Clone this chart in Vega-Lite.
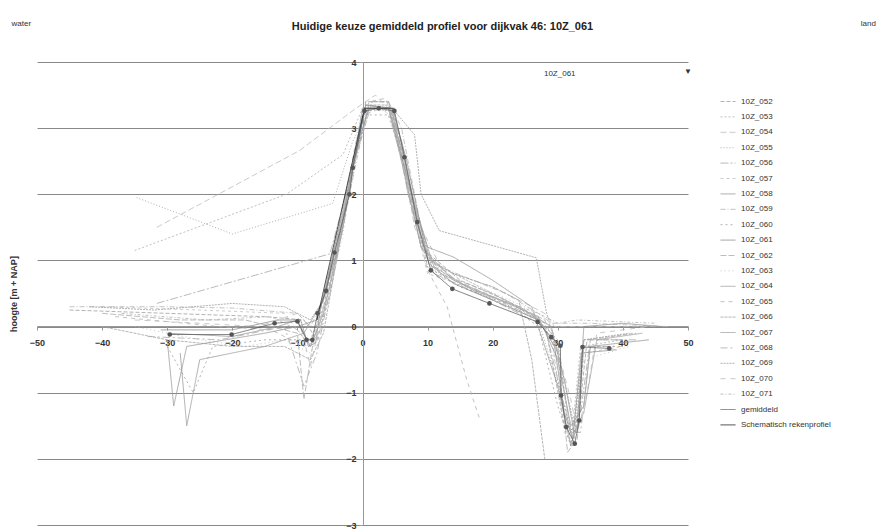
{
  "$schema": "https://vega.github.io/schema/vega-lite/v6.json",
  "autosize": {"type": "none"},
  "width": 651,
  "height": 463,
  "padding": {"left": 37, "top": 62, "right": 200, "bottom": 4},
  "background": "white",
  "config": {
    "font": "Liberation Sans",
    "view": {"stroke": null},
    "title": {"fontSize": 11, "fontWeight": "bold", "color": "#222", "anchor": "middle", "offset": -12, "frame": "group", "dx": 80}
  },
  "title": "Huidige keuze gemiddeld profiel voor dijkvak 46: 10Z_061",
  "datasets": {
    "prof": [
      {"s":"10Z_052","x":-45,"y":0.25},{"s":"10Z_052","x":-30,"y":0.2},{"s":"10Z_052","x":-15,"y":0.15},{"s":"10Z_052","x":-9,"y":0.1},{"s":"10Z_052","x":-7,"y":-0.2},{"s":"10Z_052","x":-5,"y":0.5},{"s":"10Z_052","x":-2,"y":2.0},{"s":"10Z_052","x":0.5,"y":3.4},{"s":"10Z_052","x":4,"y":3.4},{"s":"10Z_052","x":6,"y":2.6},{"s":"10Z_052","x":9,"y":1.2},{"s":"10Z_052","x":15,"y":0.7},{"s":"10Z_052","x":22,"y":0.4},{"s":"10Z_052","x":28,"y":0.05},{"s":"10Z_052","x":31,"y":-1.5},{"s":"10Z_052","x":33,"y":-1.6},{"s":"10Z_052","x":34.5,"y":-0.2},{"s":"10Z_052","x":42,"y":-0.1},
      {"s":"10Z_053","x":-35,"y":1.15},{"s":"10Z_053","x":-11.7,"y":2.0},{"s":"10Z_053","x":-3,"y":2.6},{"s":"10Z_053","x":0,"y":3.3},{"s":"10Z_053","x":4,"y":3.3},{"s":"10Z_053","x":7,"y":2.2},{"s":"10Z_053","x":10,"y":1.0},{"s":"10Z_053","x":20,"y":0.5},{"s":"10Z_053","x":27,"y":0.1},{"s":"10Z_053","x":30,"y":-0.2},{"s":"10Z_053","x":32,"y":-1.8},{"s":"10Z_053","x":33.5,"y":-0.3},{"s":"10Z_053","x":40,"y":-0.2},
      {"s":"10Z_054","x":-31.6,"y":1.5},{"s":"10Z_054","x":-9.7,"y":2.66},{"s":"10Z_054","x":-1,"y":3.3},{"s":"10Z_054","x":2,"y":3.5},{"s":"10Z_054","x":5,"y":3.2},{"s":"10Z_054","x":8,"y":1.5},{"s":"10Z_054","x":11,"y":0.9},{"s":"10Z_054","x":20,"y":0.6},{"s":"10Z_054","x":28,"y":0.2},{"s":"10Z_054","x":29.5,"y":0.0},{"s":"10Z_054","x":45,"y":0.0},
      {"s":"10Z_055","x":-34.7,"y":1.95},{"s":"10Z_055","x":-20,"y":1.4},{"s":"10Z_055","x":-4.6,"y":1.86},{"s":"10Z_055","x":-1.5,"y":2.8},{"s":"10Z_055","x":1,"y":3.3},{"s":"10Z_055","x":4,"y":3.3},{"s":"10Z_055","x":6.5,"y":2.5},{"s":"10Z_055","x":10,"y":0.9},{"s":"10Z_055","x":18,"y":0.5},{"s":"10Z_055","x":27,"y":0.1},{"s":"10Z_055","x":31,"y":-1.2},{"s":"10Z_055","x":32.5,"y":-1.7},{"s":"10Z_055","x":34,"y":-0.3},{"s":"10Z_055","x":38,"y":-0.3},
      {"s":"10Z_056","x":-31.6,"y":0.35},{"s":"10Z_056","x":-5,"y":1.1},{"s":"10Z_056","x":-2,"y":2.2},{"s":"10Z_056","x":0.5,"y":3.35},{"s":"10Z_056","x":4.5,"y":3.3},{"s":"10Z_056","x":7,"y":2.0},{"s":"10Z_056","x":11,"y":0.8},{"s":"10Z_056","x":20,"y":0.4},{"s":"10Z_056","x":28,"y":0.0},{"s":"10Z_056","x":30.5,"y":-1.0},{"s":"10Z_056","x":32,"y":-1.6},{"s":"10Z_056","x":33.5,"y":-1.3},{"s":"10Z_056","x":35,"y":-0.2},{"s":"10Z_056","x":42,"y":-0.2},
      {"s":"10Z_057","x":-40,"y":0.3},{"s":"10Z_057","x":-25,"y":0.25},{"s":"10Z_057","x":-12,"y":0.2},{"s":"10Z_057","x":-8,"y":-0.3},{"s":"10Z_057","x":-6.5,"y":0.2},{"s":"10Z_057","x":-3,"y":1.6},{"s":"10Z_057","x":0,"y":3.2},{"s":"10Z_057","x":3,"y":3.3},{"s":"10Z_057","x":5,"y":3.1},{"s":"10Z_057","x":7,"y":2.0},{"s":"10Z_057","x":10,"y":0.8},{"s":"10Z_057","x":16,"y":0.6},{"s":"10Z_057","x":25,"y":0.2},{"s":"10Z_057","x":29,"y":-0.1},{"s":"10Z_057","x":31,"y":-1.6},{"s":"10Z_057","x":32.5,"y":-1.8},{"s":"10Z_057","x":34,"y":-0.4},{"s":"10Z_057","x":40,"y":-0.3},
      {"s":"10Z_058","x":-30,"y":-0.1},{"s":"10Z_058","x":-20,"y":-0.15},{"s":"10Z_058","x":-13,"y":0.0},{"s":"10Z_058","x":-10,"y":0.1},{"s":"10Z_058","x":-8,"y":-0.3},{"s":"10Z_058","x":-6,"y":0.2},{"s":"10Z_058","x":-3,"y":1.5},{"s":"10Z_058","x":0,"y":3.3},{"s":"10Z_058","x":4,"y":3.3},{"s":"10Z_058","x":6,"y":2.5},{"s":"10Z_058","x":9,"y":1.2},{"s":"10Z_058","x":14,"y":0.7},{"s":"10Z_058","x":20,"y":0.45},{"s":"10Z_058","x":27,"y":0.15},{"s":"10Z_058","x":30,"y":-0.5},{"s":"10Z_058","x":32,"y":-1.5},{"s":"10Z_058","x":34,"y":-1.2},{"s":"10Z_058","x":35,"y":-0.3},{"s":"10Z_058","x":44,"y":-0.2},
      {"s":"10Z_059","x":-45,"y":0.3},{"s":"10Z_059","x":-30,"y":0.3},{"s":"10Z_059","x":-20,"y":0.28},{"s":"10Z_059","x":-10,"y":0.2},{"s":"10Z_059","x":-8,"y":0.0},{"s":"10Z_059","x":-6,"y":0.4},{"s":"10Z_059","x":-2,"y":2.0},{"s":"10Z_059","x":1,"y":3.4},{"s":"10Z_059","x":4,"y":3.4},{"s":"10Z_059","x":6,"y":3.0},{"s":"10Z_059","x":9,"y":1.5},{"s":"10Z_059","x":12,"y":0.9},{"s":"10Z_059","x":22,"y":0.5},{"s":"10Z_059","x":27,"y":0.2},{"s":"10Z_059","x":29,"y":0.05},{"s":"10Z_059","x":35,"y":0.05},{"s":"10Z_059","x":47,"y":0.0},
      {"s":"10Z_060","x":-30,"y":-0.3},{"s":"10Z_060","x":-26,"y":-1.0},{"s":"10Z_060","x":-23,"y":-0.3},{"s":"10Z_060","x":-15,"y":-0.2},{"s":"10Z_060","x":-8,"y":-0.2},{"s":"10Z_060","x":-6,"y":0.3},{"s":"10Z_060","x":-3,"y":1.6},{"s":"10Z_060","x":0,"y":3.2},{"s":"10Z_060","x":4,"y":3.2},{"s":"10Z_060","x":6.5,"y":2.4},{"s":"10Z_060","x":10,"y":0.9},{"s":"10Z_060","x":15,"y":0.6},{"s":"10Z_060","x":22,"y":0.35},{"s":"10Z_060","x":27,"y":0.0},{"s":"10Z_060","x":30,"y":-1.2},{"s":"10Z_060","x":32,"y":-1.8},{"s":"10Z_060","x":33,"y":-1.4},{"s":"10Z_060","x":34,"y":-0.3},{"s":"10Z_060","x":39,"y":-0.3},
      {"s":"10Z_061","x":-31,"y":-0.05},{"s":"10Z_061","x":-20,"y":-0.05},{"s":"10Z_061","x":-13,"y":0.1},{"s":"10Z_061","x":-9.5,"y":0.1},{"s":"10Z_061","x":-8.3,"y":-0.3},{"s":"10Z_061","x":-7.2,"y":-0.25},{"s":"10Z_061","x":-6.5,"y":0.25},{"s":"10Z_061","x":-2.2,"y":2.1},{"s":"10Z_061","x":0.5,"y":3.35},{"s":"10Z_061","x":4.6,"y":3.3},{"s":"10Z_061","x":6.8,"y":2.5},{"s":"10Z_061","x":10.2,"y":0.95},{"s":"10Z_061","x":14,"y":0.65},{"s":"10Z_061","x":20,"y":0.4},{"s":"10Z_061","x":27,"y":0.1},{"s":"10Z_061","x":29.5,"y":-0.3},{"s":"10Z_061","x":31,"y":-1.3},{"s":"10Z_061","x":32.3,"y":-1.7},{"s":"10Z_061","x":33.6,"y":-0.4},{"s":"10Z_061","x":39,"y":-0.35},
      {"s":"10Z_062","x":-40,"y":0.2},{"s":"10Z_062","x":-28,"y":0.1},{"s":"10Z_062","x":-18,"y":0.1},{"s":"10Z_062","x":-10,"y":-0.1},{"s":"10Z_062","x":-9,"y":-1.1},{"s":"10Z_062","x":-7.5,"y":-0.2},{"s":"10Z_062","x":-5,"y":0.6},{"s":"10Z_062","x":-1.5,"y":2.4},{"s":"10Z_062","x":1.5,"y":3.4},{"s":"10Z_062","x":4,"y":3.4},{"s":"10Z_062","x":6,"y":2.8},{"s":"10Z_062","x":9,"y":1.3},{"s":"10Z_062","x":12,"y":0.8},{"s":"10Z_062","x":20,"y":0.5},{"s":"10Z_062","x":28,"y":0.1},{"s":"10Z_062","x":30,"y":-0.4},{"s":"10Z_062","x":31.5,"y":-1.9},{"s":"10Z_062","x":33,"y":-1.7},{"s":"10Z_062","x":34,"y":-0.2},{"s":"10Z_062","x":40,"y":-0.2},
      {"s":"10Z_063","x":-35,"y":0.0},{"s":"10Z_063","x":-25,"y":-0.2},{"s":"10Z_063","x":-18,"y":-0.3},{"s":"10Z_063","x":-12,"y":-0.2},{"s":"10Z_063","x":-8,"y":-0.4},{"s":"10Z_063","x":-6,"y":0.1},{"s":"10Z_063","x":-3,"y":1.4},{"s":"10Z_063","x":0,"y":3.3},{"s":"10Z_063","x":3.5,"y":3.3},{"s":"10Z_063","x":5.5,"y":2.8},{"s":"10Z_063","x":8,"y":1.7},{"s":"10Z_063","x":10,"y":1.0},{"s":"10Z_063","x":18,"y":0.6},{"s":"10Z_063","x":26,"y":0.25},{"s":"10Z_063","x":29,"y":-0.2},{"s":"10Z_063","x":31,"y":-1.4},{"s":"10Z_063","x":32.5,"y":-1.7},{"s":"10Z_063","x":34,"y":-0.5},{"s":"10Z_063","x":41,"y":-0.3},
      {"s":"10Z_064","x":-28,"y":-0.4},{"s":"10Z_064","x":-27,"y":-1.5},{"s":"10Z_064","x":-25,"y":-0.5},{"s":"10Z_064","x":-15,"y":-0.3},{"s":"10Z_064","x":-9,"y":-0.1},{"s":"10Z_064","x":-6,"y":0.4},{"s":"10Z_064","x":-2.5,"y":1.9},{"s":"10Z_064","x":0.5,"y":3.35},{"s":"10Z_064","x":4,"y":3.3},{"s":"10Z_064","x":6,"y":2.7},{"s":"10Z_064","x":8,"y":1.8},{"s":"10Z_064","x":11,"y":0.9},{"s":"10Z_064","x":17,"y":0.55},{"s":"10Z_064","x":24,"y":0.3},{"s":"10Z_064","x":29,"y":0.0},{"s":"10Z_064","x":31,"y":-0.8},{"s":"10Z_064","x":32.5,"y":-1.6},{"s":"10Z_064","x":34,"y":-1.3},{"s":"10Z_064","x":36,"y":-0.2},{"s":"10Z_064","x":43,"y":-0.1},
      {"s":"10Z_065","x":-38,"y":0.15},{"s":"10Z_065","x":-22,"y":0.0},{"s":"10Z_065","x":-14,"y":-0.05},{"s":"10Z_065","x":-9,"y":-0.3},{"s":"10Z_065","x":-6.8,"y":-0.2},{"s":"10Z_065","x":-5,"y":0.7},{"s":"10Z_065","x":-1,"y":2.8},{"s":"10Z_065","x":1,"y":3.4},{"s":"10Z_065","x":3.5,"y":3.45},{"s":"10Z_065","x":5.5,"y":3.0},{"s":"10Z_065","x":7,"y":2.0},{"s":"10Z_065","x":10,"y":0.85},{"s":"10Z_065","x":13,"y":0.3},{"s":"10Z_065","x":16,"y":-0.8},{"s":"10Z_065","x":18,"y":-1.4},
      {"s":"10Z_066","x":-40,"y":0.0},{"s":"10Z_066","x":-30,"y":-0.2},{"s":"10Z_066","x":-20,"y":-0.3},{"s":"10Z_066","x":-12,"y":-0.3},{"s":"10Z_066","x":-8,"y":-0.5},{"s":"10Z_066","x":-6,"y":-0.1},{"s":"10Z_066","x":-4,"y":1.0},{"s":"10Z_066","x":-1,"y":2.6},{"s":"10Z_066","x":1,"y":3.35},{"s":"10Z_066","x":4,"y":3.35},{"s":"10Z_066","x":6,"y":2.8},{"s":"10Z_066","x":8.5,"y":1.6},{"s":"10Z_066","x":10.5,"y":1.0},{"s":"10Z_066","x":14,"y":0.8},{"s":"10Z_066","x":20,"y":0.6},{"s":"10Z_066","x":24,"y":0.4},{"s":"10Z_066","x":26,"y":-0.5},{"s":"10Z_066","x":28,"y":-2.0},
      {"s":"10Z_067","x":-30,"y":-0.2},{"s":"10Z_067","x":-29,"y":-1.2},{"s":"10Z_067","x":-27,"y":-0.3},{"s":"10Z_067","x":-15,"y":-0.1},{"s":"10Z_067","x":-10,"y":0.0},{"s":"10Z_067","x":-7,"y":0.1},{"s":"10Z_067","x":-4,"y":1.1},{"s":"10Z_067","x":-1,"y":2.7},{"s":"10Z_067","x":1,"y":3.3},{"s":"10Z_067","x":4,"y":3.3},{"s":"10Z_067","x":7,"y":2.2},{"s":"10Z_067","x":10,"y":1.2},{"s":"10Z_067","x":14,"y":1.05},{"s":"10Z_067","x":20,"y":0.7},{"s":"10Z_067","x":26,"y":0.3},{"s":"10Z_067","x":30,"y":-0.9},{"s":"10Z_067","x":32,"y":-1.8},{"s":"10Z_067","x":33,"y":-1.5},{"s":"10Z_067","x":34,"y":0.0},{"s":"10Z_067","x":40,"y":0.05},{"s":"10Z_067","x":46,"y":0.0},
      {"s":"10Z_068","x":-33,"y":-0.15},{"s":"10Z_068","x":-22,"y":-0.2},{"s":"10Z_068","x":-12,"y":0.0},{"s":"10Z_068","x":-9,"y":-0.9},{"s":"10Z_068","x":-7,"y":-0.4},{"s":"10Z_068","x":-4.5,"y":0.8},{"s":"10Z_068","x":-1.5,"y":2.4},{"s":"10Z_068","x":1,"y":3.3},{"s":"10Z_068","x":4.5,"y":3.3},{"s":"10Z_068","x":6.5,"y":2.4},{"s":"10Z_068","x":9.5,"y":1.1},{"s":"10Z_068","x":15,"y":0.65},{"s":"10Z_068","x":21,"y":0.4},{"s":"10Z_068","x":27,"y":0.1},{"s":"10Z_068","x":30,"y":-0.3},{"s":"10Z_068","x":32,"y":-1.6},{"s":"10Z_068","x":33.5,"y":-1.6},{"s":"10Z_068","x":35,"y":-0.3},{"s":"10Z_068","x":40,"y":-0.3},
      {"s":"10Z_069","x":-42,"y":0.3},{"s":"10Z_069","x":-32,"y":0.25},{"s":"10Z_069","x":-20,"y":0.35},{"s":"10Z_069","x":-12,"y":0.3},{"s":"10Z_069","x":-8,"y":0.1},{"s":"10Z_069","x":-6,"y":0.4},{"s":"10Z_069","x":-2,"y":2.3},{"s":"10Z_069","x":1,"y":3.3},{"s":"10Z_069","x":5,"y":3.25},{"s":"10Z_069","x":8,"y":2.9},{"s":"10Z_069","x":9,"y":2.0},{"s":"10Z_069","x":11.8,"y":1.45},{"s":"10Z_069","x":26.7,"y":1.04},{"s":"10Z_069","x":28.2,"y":0.24},{"s":"10Z_069","x":31,"y":-0.8},{"s":"10Z_069","x":32.5,"y":-1.5},{"s":"10Z_069","x":34,"y":-0.2},{"s":"10Z_069","x":41,"y":-0.1},
      {"s":"10Z_070","x":-35,"y":0.1},{"s":"10Z_070","x":-25,"y":0.05},{"s":"10Z_070","x":-16,"y":0.0},{"s":"10Z_070","x":-10,"y":0.2},{"s":"10Z_070","x":-8,"y":-0.6},{"s":"10Z_070","x":-6,"y":0.3},{"s":"10Z_070","x":-3,"y":1.7},{"s":"10Z_070","x":0,"y":3.3},{"s":"10Z_070","x":4,"y":3.3},{"s":"10Z_070","x":6,"y":2.5},{"s":"10Z_070","x":9,"y":1.3},{"s":"10Z_070","x":12,"y":0.8},{"s":"10Z_070","x":19,"y":0.5},{"s":"10Z_070","x":25,"y":0.25},{"s":"10Z_070","x":29,"y":0.0},{"s":"10Z_070","x":32,"y":-1.1},{"s":"10Z_070","x":33,"y":-1.6},{"s":"10Z_070","x":34.5,"y":-1.0},{"s":"10Z_070","x":36,"y":-0.1},{"s":"10Z_070","x":44,"y":0.0},
      {"s":"10Z_071","x":-37,"y":0.2},{"s":"10Z_071","x":-24,"y":0.1},{"s":"10Z_071","x":-14,"y":0.15},{"s":"10Z_071","x":-10,"y":-0.05},{"s":"10Z_071","x":-8,"y":-0.3},{"s":"10Z_071","x":-6,"y":0.2},{"s":"10Z_071","x":-3,"y":1.5},{"s":"10Z_071","x":0,"y":3.25},{"s":"10Z_071","x":4,"y":3.3},{"s":"10Z_071","x":6,"y":2.7},{"s":"10Z_071","x":9,"y":1.2},{"s":"10Z_071","x":13,"y":0.75},{"s":"10Z_071","x":20,"y":0.45},{"s":"10Z_071","x":27,"y":0.2},{"s":"10Z_071","x":30,"y":0.05},{"s":"10Z_071","x":33,"y":0.1},{"s":"10Z_071","x":45,"y":0.05},
      {"s":"gemiddeld","x":-29.6,"y":-0.12},{"s":"gemiddeld","x":-20.1,"y":-0.12},{"s":"gemiddeld","x":-13.5,"y":0.05},{"s":"gemiddeld","x":-10,"y":0.08},{"s":"gemiddeld","x":-8.6,"y":-0.2},{"s":"gemiddeld","x":-7.7,"y":-0.2},{"s":"gemiddeld","x":-6.9,"y":0.2},{"s":"gemiddeld","x":-5.6,"y":0.54},{"s":"gemiddeld","x":-4.3,"y":1.12},{"s":"gemiddeld","x":-2,"y":2.0},{"s":"gemiddeld","x":-1.5,"y":2.4},{"s":"gemiddeld","x":0.3,"y":3.26},{"s":"gemiddeld","x":2.5,"y":3.3},{"s":"gemiddeld","x":4.9,"y":3.26},{"s":"gemiddeld","x":6.45,"y":2.56},{"s":"gemiddeld","x":8.4,"y":1.58},{"s":"gemiddeld","x":10.5,"y":0.85},{"s":"gemiddeld","x":13.8,"y":0.57},{"s":"gemiddeld","x":19.5,"y":0.35},{"s":"gemiddeld","x":26.9,"y":0.07},{"s":"gemiddeld","x":29,"y":-0.16},{"s":"gemiddeld","x":30.4,"y":-0.29},{"s":"gemiddeld","x":30.5,"y":-1.04},{"s":"gemiddeld","x":31.3,"y":-1.52},{"s":"gemiddeld","x":32.6,"y":-1.77},{"s":"gemiddeld","x":33.3,"y":-1.42},{"s":"gemiddeld","x":33.8,"y":-0.31},{"s":"gemiddeld","x":37.9,"y":-0.33},
      {"s":"Schematisch rekenprofiel","x":-7,"y":0.1},{"s":"Schematisch rekenprofiel","x":0.3,"y":3.3},{"s":"Schematisch rekenprofiel","x":4.9,"y":3.3}
    ],
    "notes": [
      {"t":"water","x":-52.4,"y":4.57},
      {"t":"land","x":77.7,"y":4.57},
      {"t":"10Z_061","x":30.3,"y":3.82},
      {"t":"▼","x":50,"y":3.85}
    ]
  },
  "layer": [
    {
      "data": {"name": "prof"},
      "mark": {"type": "line", "clip": false},
      "encoding": {
        "x": {"field": "x", "type": "quantitative",
          "scale": {"domain": [-50, 50], "nice": false, "zero": false},
          "axis": {"values": [-50,-40,-30,-20,-10,0,10,20,30,40,50], "format": "d", "offset": -199, "title": null, "grid": false,
            "domainColor": "#999", "tickColor": "#999", "tickSize": 4, "labelPadding": 8,
            "labelFontSize": 9, "labelFontWeight": "bold", "labelColor": "#333", "labelFlush": false}},
        "y": {"field": "y", "type": "quantitative",
          "scale": {"domain": [-3, 4], "nice": false, "zero": false},
          "axis": {"values": [-3,-2,-1,0,1,2,3,4], "format": "d", "offset": -326, "title": "hoogte [m + NAP]", "titleX": -345,
            "titleFontSize": 9, "titleFontWeight": "bold", "titleColor": "#333",
            "grid": true, "gridColor": "#888", "gridWidth": 1,
            "domainColor": "#999", "tickColor": "#999", "tickSize": 4, "labelPadding": 3,
            "labelFontSize": 9, "labelFontWeight": "bold", "labelColor": "#333"}},
        "color": {"field": "s", "type": "nominal",
          "scale": {
            "domain": ["10Z_052","10Z_053","10Z_054","10Z_055","10Z_056","10Z_057","10Z_058","10Z_059","10Z_060","10Z_061","10Z_062","10Z_063","10Z_064","10Z_065","10Z_066","10Z_067","10Z_068","10Z_069","10Z_070","10Z_071","gemiddeld","Schematisch rekenprofiel"],
            "range": ["#a0a0a0","#b0b0b0","#bcbcbc","#989898","#a8a8a8","#c0c0c0","#909090","#b4b4b4","#a0a0a0","#888888","#acacac","#b8b8b8","#9c9c9c","#b3b3b3","#a3a3a3","#949494","#aaaaaa","#9e9e9e","#bababa","#aeaeae","#555555","#111111"]},
          "legend": {"orient": "none", "legendX": 683, "legendY": 31.5, "title": null, "symbolType": "stroke",
            "symbolSize": 225, "labelFontSize": 8, "labelColor": "#333", "rowPadding": 3.4, "labelOffset": 5}},
        "strokeDash": {"field": "s", "type": "nominal",
          "scale": {
            "domain": ["10Z_052","10Z_053","10Z_054","10Z_055","10Z_056","10Z_057","10Z_058","10Z_059","10Z_060","10Z_061","10Z_062","10Z_063","10Z_064","10Z_065","10Z_066","10Z_067","10Z_068","10Z_069","10Z_070","10Z_071","gemiddeld","Schematisch rekenprofiel"],
            "range": [[4,2],[2,2],[6,3],[1,2],[8,2,2,2],[3,3],[1,0],[5,2,1,2],[2,3],[1,0],[6,2],[1,3],[1,0],[4,4],[3,1],[1,0],[7,3,2,3],[2,1],[5,5],[3,2,1,2],[1,0],[1,0]]},
          "legend": {"orient": "none", "legendX": 683, "legendY": 31.5, "title": null, "symbolType": "stroke",
            "symbolSize": 225, "labelFontSize": 8, "labelColor": "#333", "rowPadding": 3.4, "labelOffset": 5}},
        "strokeWidth": {"field": "s", "type": "nominal",
          "scale": {
            "domain": ["10Z_052","10Z_053","10Z_054","10Z_055","10Z_056","10Z_057","10Z_058","10Z_059","10Z_060","10Z_061","10Z_062","10Z_063","10Z_064","10Z_065","10Z_066","10Z_067","10Z_068","10Z_069","10Z_070","10Z_071","gemiddeld","Schematisch rekenprofiel"],
            "range": [0.8,0.8,0.8,0.8,0.8,0.8,0.8,0.8,0.8,0.8,0.8,0.8,0.8,0.8,0.8,0.8,0.8,0.8,0.8,0.8,1.6,3]},
          "legend": {"orient": "none", "legendX": 683, "legendY": 31.5, "title": null, "symbolType": "stroke",
            "symbolSize": 225, "labelFontSize": 8, "labelColor": "#333", "rowPadding": 3.4, "labelOffset": 5}}
      }
    },
    {
      "data": {"name": "prof"},
      "transform": [{"filter": "datum.s == 'gemiddeld'"}],
      "mark": {"type": "point", "filled": true, "size": 22, "color": "#555555", "opacity": 1},
      "encoding": {
        "x": {"field": "x", "type": "quantitative"},
        "y": {"field": "y", "type": "quantitative"}
      }
    },
    {
      "data": {"name": "notes"},
      "mark": {"type": "text", "clip": false, "fontSize": 8, "color": "#333", "baseline": "middle", "align": "center"},
      "encoding": {
        "x": {"field": "x", "type": "quantitative"},
        "y": {"field": "y", "type": "quantitative"},
        "text": {"field": "t"}
      }
    }
  ]
}
